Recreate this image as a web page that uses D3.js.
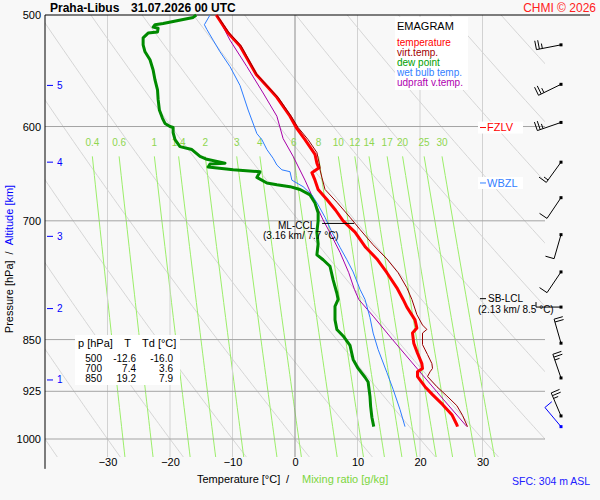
<!DOCTYPE html>
<html>
<head>
<meta charset="utf-8">
<script src="https://cdn.jsdelivr.net/npm/d3@7"></script>
<style>
  body { margin: 0; background: #f8f8f8; }
  svg text { font-family: "Liberation Sans", Arial, sans-serif; }
</style>
</head>
<body>
<div id="chart-area"></div>
<script>
// axes and grid values
var pLevels = [500, 600, 700, 850, 925, 1000];
var tTicks = [-30, -20, -10, 0, 10, 20, 30];
var mixRatios = [0.4, 0.6, 1, 1.4, 2, 3, 4, 6, 8, 10, 12, 14, 17, 20, 25, 30];
var altKm = [1, 2, 3, 4, 5];
var altP = [908, 808, 718, 636, 561];

// sounding, pressure [hPa] / temperature [°C]
var tempP = [500, 515, 526, 551, 563, 572, 590, 601, 613, 628, 637, 642, 647, 655, 665, 676, 688, 700, 713, 731,
             745, 762, 781, 796, 806, 823, 834, 841, 855, 869, 884, 891, 896, 903, 918, 930, 945, 961, 977, 980];
var tempT = [-12.6, -10.7, -8.8, -6.2, -4.3, -2.9, -0.8, 0.2, 1.6, 3.2, 3.5, 3.8, 2.7, 3.2, 3.7, 5.1, 6.5, 7.7, 9.6, 11.3,
             13.1, 14.7, 16.3, 17.3, 17.9, 19.2, 19.5, 18.8, 19.0, 19.6, 20.3, 20.4, 19.6, 19.6, 20.8, 22.0, 23.6, 25.1, 25.9, 26.0];

var virtP = [500, 515, 526, 551, 563, 572, 590, 601, 613, 626, 641, 644, 652, 665, 679, 696, 710, 728, 745, 762,
             781, 796, 816, 830, 836, 841, 857, 871, 884, 891, 896, 903, 918, 932, 947, 962, 980];
var virtT = [-12.5, -10.5, -8.6, -6.1, -4.2, -2.7, -0.6, 0.5, 2.1, 3.5, 4.0, 4.0, 4.3, 4.8, 6.7, 8.8, 10.4, 12.5, 14.7, 16.5,
             17.9, 18.7, 19.5, 20.4, 21.1, 20.4, 20.4, 21.2, 21.9, 22.0, 21.6, 21.2, 22.7, 24.3, 25.9, 26.8, 27.6];

var dewP = [500, 502, 507, 508, 510, 511, 514, 515, 519, 525, 531, 538, 547, 556, 565, 574, 584, 592, 597, 600,
            601, 606, 613, 620, 623, 630, 633, 637, 638, 641, 644, 646, 652, 658, 660, 662, 665, 671, 680, 691,
            700, 713, 727, 740, 746, 754, 771, 788, 796, 805, 823, 836, 845, 858, 878, 891, 904, 911, 933, 948, 965, 980];
var dewT = [-15.8, -16.3, -21.1, -22.4, -22.7, -21.9, -22.0, -23.5, -24.3, -24.3, -24.0, -23.2, -22.7, -22.4, -22.0, -21.9, -21.7, -21.2, -20.8, -20.0,
            -19.5, -19.5, -19.2, -18.4, -16.5, -15.2, -14.1, -11.2, -13.6, -13.9, -9.9, -5.6, -6.1, -4.5, -2.9, -0.8, 0.8, 2.4, 3.2, 3.7,
            3.7, 3.5, 3.7, 3.5, 4.5, 5.6, 6.1, 6.7, 6.9, 6.4, 6.4, 6.7, 7.7, 8.8, 9.3, 10.1, 11.2, 11.7, 12.0, 12.1, 12.3, 12.6];

var wetP = [500, 508, 512, 521, 531, 544, 561, 584, 607, 613, 623, 632, 639, 644, 646, 655, 662, 671, 682, 696,
            713, 731, 746, 761, 783, 796, 820, 841, 864, 897, 922, 953, 980];
var wetT = [-13.6, -14.5, -14.1, -13.1, -12.0, -10.4, -8.8, -7.5, -6.1, -5.3, -4.5, -3.5, -2.9, -2.1, -0.8, -0.5, 1.3, 2.7, 3.7, 4.8,
            5.9, 7.2, 8.3, 9.3, 10.4, 11.2, 12.0, 12.5, 13.3, 14.7, 15.7, 16.8, 17.6];

var parcelP = [500, 521, 544, 568, 590, 612, 630, 655, 684, 699, 718, 737, 762, 783, 796, 819, 850, 893, 938, 980];
var parcelT = [-12.5, -10.4, -7.7, -5.1, -2.9, -1.9, -0.3, 1.6, 3.5, 4.5, 5.9, 7.2, 8.6, 9.5, 10.2, 12.6, 15.6, 19.7, 23.8, 27.5];

// wind barbs (0.5 km steps), direction [deg], speed [kt]
var windP = [525, 560, 596, 636, 674, 716, 761, 806, 855, 905, 963];
var windDir = [259, 244, 251, 216, 214, 196, 214, 270, 344, 341, 337];
var windSpd = [25, 25, 25, 15, 10, 10, 10, 5, 20, 25, 25];
var sfcP = 980, sfcDir = 320, sfcSpd = 10;

// table
var tableP = [500, 700, 850];
var tableT = [-12.6, 7.4, 19.2];
var tableTd = [-16.0, 3.6, 7.9];

var legendNames = ["temperature", "virt.temp.", "dew point", "wet bulb temp.", "udpraft v.temp."];
var legendColors = ["#ff0000", "#a00000", "#00a000", "#3380ff", "#b000b0"];

var pBottom = 1030;

var svg = d3.select("#chart-area").append("svg")
    .attr("width", 600)
    .attr("height", 500);

svg.append("rect").attr("width", 600).attr("height", 500).attr("fill", "#f8f8f8");

var x = d3.scaleLinear().domain([-40, 40]).range([45, 545]);
var y = d3.scaleLog().domain([500, 1000]).range([15, 439]);

svg.append("clipPath").attr("id", "plot-clip")
  .append("rect")
    .attr("x", x(-40)).attr("y", y(500))
    .attr("width", x(40) - x(-40))
    .attr("height", y(pBottom) - y(500));

var grid = svg.append("g").attr("clip-path", "url(#plot-clip)");

var line = d3.line()
    .x((d) => x(d[1]))
    .y((d) => y(d[0]));

// dry adiabats
var pSteps = d3.range(500, pBottom + 1, 5);
d3.range(233.15, 400, 10).forEach((theta) => {
    grid.append("path")
        .datum(pSteps.map((p) => [p, theta * Math.pow(p / 1000, 0.2857) - 273.15]))
        .attr("d", line)
        .attr("fill", "none")
        .attr("stroke", "#d6d6d6")
        .attr("stroke-width", 1);
});

// mixing ratio lines
function tdFromW(w, p) {
    var e = w * p / (622 + w);
    var l = Math.log(e / 6.112);
    return 243.5 * l / (17.67 - l);
}
var wSteps = d3.range(630, pBottom + 1, 10);
mixRatios.forEach((w) => {
    grid.append("path")
        .datum(wSteps.map((p) => [p, tdFromW(w, p)]))
        .attr("d", line)
        .attr("fill", "none")
        .attr("stroke", "#9cee6a")
        .attr("stroke-width", 1);
});

// isotherms
grid.selectAll(".iso")
    .data(tTicks)
  .enter().append("line")
    .attr("x1", (d) => x(d)).attr("x2", (d) => x(d))
    .attr("y1", y(500)).attr("y2", y(pBottom))
    .attr("stroke", (d) => d === 0 ? "#8c8c8c" : "#d2d2d2")
    .attr("stroke-width", 1);

// isobars
grid.selectAll(".isobar")
    .data(pLevels.slice(1))
  .enter().append("line")
    .attr("x1", x(-40)).attr("x2", x(40))
    .attr("y1", (d) => y(d)).attr("y2", (d) => y(d))
    .attr("stroke", "#a4a4a4")
    .attr("stroke-width", 1);

// borders
svg.append("line").attr("x1", x(-40)).attr("x2", 590).attr("y1", y(500)).attr("y2", y(500))
    .attr("stroke", "#000");
svg.append("line").attr("x1", x(-40)).attr("x2", x(-40)).attr("y1", y(500)).attr("y2", y(1050))
    .attr("stroke", "#000");

// mixing ratio labels
svg.selectAll(".mixlab")
    .data(mixRatios)
  .enter().append("text")
    .attr("x", (d) => x(tdFromW(d, 630)))
    .attr("y", y(616))
    .attr("dy", "0.35em")
    .attr("text-anchor", "middle")
    .attr("font-size", 10)
    .attr("fill", "#8fd650")
    .text((d) => d);

// axes
var yAxis = svg.append("g")
    .attr("transform", "translate(" + x(-40) + ",0)")
    .call(d3.axisLeft(y).tickValues(pLevels).tickSize(0).tickPadding(4).tickFormat(d3.format("d")));
yAxis.select(".domain").remove();
yAxis.attr("font-family", null).attr("font-size", 11);
yAxis.selectAll("text").attr("fill", "#000");

var xAxis = svg.append("g")
    .attr("transform", "translate(0,458)")
    .call(d3.axisBottom(x).tickValues(tTicks).tickSize(0).tickPadding(0));
xAxis.select(".domain").remove();
xAxis.attr("font-family", null).attr("font-size", 11);
xAxis.selectAll("text").attr("fill", "#000");

// altitude ticks
var altG = svg.append("g");
altKm.forEach((k, i) => {
    altG.append("line")
        .attr("x1", x(-40) + 2).attr("x2", x(-40) + 8)
        .attr("y1", y(altP[i])).attr("y2", y(altP[i]))
        .attr("stroke", "#0000ff");
    altG.append("text")
        .attr("x", x(-40) + 12).attr("y", y(altP[i]))
        .attr("dy", "0.35em")
        .attr("font-size", 10)
        .attr("fill", "#0000ff")
        .text(k);
});

// sounding curves
function curve(ps, ts, color, width) {
    svg.append("path")
        .datum(d3.zip(ps, ts))
        .attr("d", line)
        .attr("fill", "none")
        .attr("stroke", color)
        .attr("stroke-width", width)
        .attr("stroke-linejoin", "round");
}
curve(parcelP, parcelT, "#a800a8", 1);
curve(wetP, wetT, "#2c7cff", 1);
curve(dewP, dewT, "#008a00", 3);
curve(tempP, tempT, "#ff0000", 3);
curve(virtP, virtT, "#990000", 1);

// level markers
function marker(p, label, color) {
    svg.append("rect").attr("x", 478).attr("y", y(p) - 6).attr("width", 45).attr("height", 12).attr("fill", "#fff");
    svg.append("line").attr("x1", 480).attr("x2", 486).attr("y1", y(p)).attr("y2", y(p)).attr("stroke", color);
    svg.append("text").attr("x", 487).attr("y", y(p)).attr("dy", "0.35em")
        .attr("font-size", 11).attr("fill", color).text(label);
}
marker(601, "FZLV", "#ff0000");
marker(658, "WBZL", "#3380ff");

// SB-LCL
svg.append("line").attr("x1", 480).attr("x2", 486).attr("y1", y(795)).attr("y2", y(795)).attr("stroke", "#000");
svg.append("text").attr("x", 488).attr("y", y(795)).attr("dy", "0.35em").attr("font-size", 10).text("SB-LCL");
svg.append("text").attr("x", 478).attr("y", y(795) + 11).attr("dy", "0.35em").attr("font-size", 10).text("(2.13 km/ 8.5 °C)");

// ML-CCL
svg.append("line").attr("x1", x(7.7) - 21).attr("x2", x(7.7) + 11).attr("y1", y(703)).attr("y2", y(703)).attr("stroke", "#000");
svg.append("text").attr("x", 278).attr("y", y(703) + 2).attr("dy", "0.35em").attr("font-size", 10).text("ML-CCL");
svg.append("text").attr("x", 263).attr("y", y(703) + 12).attr("dy", "0.35em").attr("font-size", 10).text("(3.16 km/ 7.7 °C)");

// legend
var leg = svg.append("g");
leg.append("rect").attr("x", 395).attr("y", 17).attr("width", 73).attr("height", 73).attr("fill", "#fff");
leg.append("text").attr("x", 397).attr("y", 26).attr("dy", "0.35em").attr("font-size", 11).text("EMAGRAM");
legendNames.forEach((n, i) => {
    leg.append("text")
        .attr("x", 397).attr("y", 42 + i * 10).attr("dy", "0.35em")
        .attr("font-size", 10).attr("fill", legendColors[i]).text(n);
});

// table
var tab = svg.append("g");
tab.append("rect").attr("x", 75).attr("y", 335).attr("width", 105).attr("height", 50).attr("fill", "#fff");
tab.append("text").attr("x", 78).attr("y", 343).attr("dy", "0.35em").attr("font-size", 11).text("p [hPa]");
tab.append("text").attr("x", 127.5).attr("y", 343).attr("dy", "0.35em").attr("font-size", 11).attr("text-anchor", "middle").text("T");
tab.append("text").attr("x", 142).attr("y", 343).attr("dy", "0.35em").attr("font-size", 11).text("Td [°C]");
tableP.forEach((p, i) => {
    var ty = 358 + i * 10;
    tab.append("text").attr("x", 102).attr("y", ty).attr("dy", "0.35em").attr("font-size", 10).attr("text-anchor", "end").text(p);
    tab.append("text").attr("x", 136).attr("y", ty).attr("dy", "0.35em").attr("font-size", 10).attr("text-anchor", "end").text(tableT[i].toFixed(1));
    tab.append("text").attr("x", 173).attr("y", ty).attr("dy", "0.35em").attr("font-size", 10).attr("text-anchor", "end").text(tableTd[i].toFixed(1));
});

// wind barbs
var barbX = 561;
function barb(p, dir, spd, color) {
    var r = dir * Math.PI / 180;
    var ux = Math.sin(r), uy = -Math.cos(r);
    var nx = -uy, ny = ux;
    var px = barbX, py = y(p);
    var ex = px + ux * 25, ey = py + uy * 25;
    var d = "M" + px + "," + py + "L" + ex + "," + ey;
    var full = Math.floor(spd / 10), half = spd % 10 >= 5 ? 1 : 0;
    var pos = 0;
    for (var i = 0; i < full + half; i++) {
        var len = i < full ? 9 : 5;
        var bx = ex - ux * pos, by = ey - uy * pos;
        d += "M" + bx + "," + by + "L" + (bx + nx * len) + "," + (by + ny * len);
        pos += 3;
    }
    svg.append("path").attr("d", d).attr("fill", "none").attr("stroke", color).attr("stroke-width", 1);
    svg.append("rect").attr("x", px - 1.5).attr("y", py - 1.5).attr("width", 3).attr("height", 3).attr("fill", color);
}
windP.forEach((p, i) => barb(p, windDir[i], windSpd[i], "#000"));
barb(sfcP, sfcDir, sfcSpd, "#0000ff");

// titles
svg.append("text").attr("x", 50).attr("y", 12).attr("font-size", 12).attr("font-weight", "bold").text("Praha-Libus");
svg.append("text").attr("x", 131).attr("y", 12).attr("font-size", 12).attr("font-weight", "bold").text("31.07.2026 00 UTC");
svg.append("text").attr("x", 596).attr("y", 12).attr("font-size", 12).attr("text-anchor", "end").attr("fill", "#ff2020").text("CHMI © 2026");

var yTitle = svg.append("text")
    .attr("transform", "translate(12.5,259) rotate(-90)")
    .attr("text-anchor", "middle")
    .attr("font-size", 11);
yTitle.append("tspan").text("Pressure [hPa]");
yTitle.append("tspan").attr("dx", 6).text("/");
yTitle.append("tspan").attr("dx", 6).attr("fill", "#0000ff").text("Altitude [km]");

svg.append("text").attr("x", 197).attr("y", 483).attr("font-size", 11).text("Temperature [°C]");
svg.append("text").attr("x", 286).attr("y", 483).attr("font-size", 11).text("/");
svg.append("text").attr("x", 302).attr("y", 483).attr("font-size", 11).attr("fill", "#7cd63e").text("Mixing ratio [g/kg]");
svg.append("text").attr("x", 512).attr("y", 485).attr("font-size", 10.5).attr("fill", "#2020ff").text("SFC: 304 m ASL");
</script>
</body>
</html>
